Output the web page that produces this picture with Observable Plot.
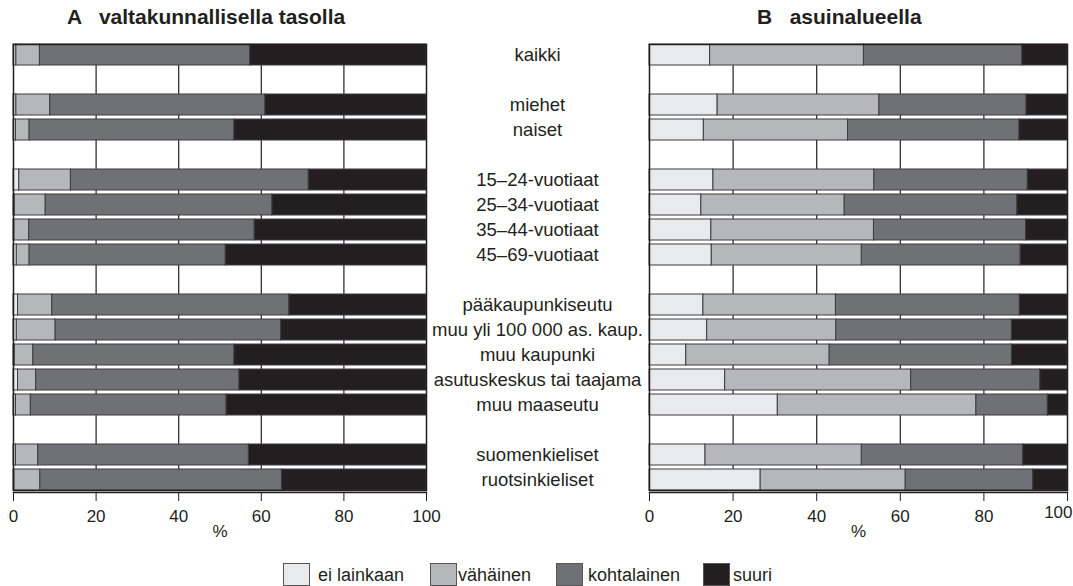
<!DOCTYPE html>
<html>
<head>
<meta charset="utf-8">
<script src="https://cdn.jsdelivr.net/npm/d3@7"></script>
<script src="https://cdn.jsdelivr.net/npm/@observablehq/plot@0.6"></script>
<style>
  html, body { margin: 0; padding: 0; background: #fff; }
  #root { position: relative; width: 1073px; height: 586px; overflow: hidden; font-family: "Liberation Sans", Arial, sans-serif; color: #231f20; }
  .abs { position: absolute; }
  .title { font-weight: bold; font-size: 21px; white-space: pre; top: 5px; }
  .sw { position: absolute; width: 27px; height: 23px; border: 1px solid #555; box-sizing: border-box; top: 563px; }
  .lt { position: absolute; font-size: 18px; top: 564px; line-height: 22px; white-space: nowrap; }
</style>
</head>
<body>
<div id="root"></div>
<script>
// ---- data ----
const categories = [
  "kaikki", null, "miehet", "naiset", null,
  "15–24-vuotiaat", "25–34-vuotiaat", "35–44-vuotiaat", "45–69-vuotiaat", null,
  "pääkaupunkiseutu", "muu yli 100 000 as. kaup.", "muu kaupunki", "asutuskeskus tai taajama", "muu maaseutu", null,
  "suomenkieliset", "ruotsinkieliset"
];
const seriesNames = ["ei lainkaan", "vähäinen", "kohtalainen", "suuri"];
const seriesColors = ["#e9eaeb", "#b6b7ba", "#707174", "#231f20"];
const xTicks = [0, 20, 40, 60, 80, 100];
const gridTicks = [20, 40, 60, 80];

const titleA = "A   valtakunnallisella tasolla";
const titleB = "B   asuinalueella";

// Panel A (valtakunnallisella tasolla), % per row (non-blank rows in order)
const A_eiLainkaan = [0.7, 0.7, 0.6, 1.4, 0.3, 0.2, 0.8, 1.1, 0.8, 0.3, 1.1, 0.6, 0.6, 0.2];
const A_vahainen   = [5.7, 8.2, 3.3, 12.5, 7.5, 3.6, 3.1, 8.3, 9.4, 4.5, 4.4, 3.6, 5.4, 6.3];
const A_kohtalainen= [50.9, 52.1, 49.6, 57.6, 54.9, 54.6, 47.5, 57.4, 54.6, 48.7, 49.2, 47.4, 51.0, 58.5];
const A_suuri      = [42.7, 39.0, 46.5, 28.5, 37.3, 41.6, 48.6, 33.2, 35.2, 46.5, 45.3, 48.4, 43.0, 35.0];

// Panel B (asuinalueella)
const B_eiLainkaan = [14.5, 16.3, 13.0, 15.3, 12.4, 14.8, 14.9, 12.9, 13.8, 8.8, 18.1, 30.7, 13.4, 26.6];
const B_vahainen   = [36.8, 38.7, 34.5, 38.5, 34.3, 38.9, 35.9, 31.7, 30.9, 34.3, 44.5, 47.5, 37.4, 34.7];
const B_kohtalainen= [37.9, 35.2, 41.0, 36.7, 41.3, 36.4, 38.0, 44.0, 42.0, 43.6, 30.9, 17.1, 38.6, 30.5];
const B_suuri      = [10.8, 9.8, 11.5, 9.5, 12.0, 9.9, 11.2, 11.4, 13.3, 13.3, 6.5, 4.7, 10.6, 8.2];

// ---- build ----
const labels = categories.filter(c => c !== null);
const rowKeys = categories.map((c, i) => c !== null ? c : "väli" + i);

function table(series) {
  const out = [];
  labels.forEach((lab, i) => {
    series.forEach((arr, s) => out.push({row: lab, series: seriesNames[s], value: arr[i]}));
  });
  return out;
}
const dataA = table([A_eiLainkaan, A_vahainen, A_kohtalainen, A_suuri]);
const dataB = table([B_eiLainkaan, B_vahainen, B_kohtalainen, B_suuri]);

const H = 530, MT = 14, MB = 70;
const ink = "#231f20";
const font = "'Liberation Sans', Arial, sans-serif";

function yScale() {
  return {domain: rowKeys, type: "band", paddingInner: 0.16, paddingOuter: 0, axis: null};
}

function panel(data, width, ml, mr, lastEnd) {
  const last = xTicks[xTicks.length - 1];
  const marks = [
    Plot.gridX(gridTicks, {stroke: ink, strokeOpacity: 1, strokeWidth: 1.2}),
    Plot.barX(data, Plot.stackX({x: "value", y: "row", fill: "series", stroke: "#3d3d40", strokeWidth: 1})),
    Plot.frame({stroke: ink, strokeWidth: 1.5}),
    Plot.frame({anchor: "bottom", stroke: ink, strokeWidth: 1.5, dy: 2}),
    Plot.axisX(xTicks, {tickSize: 9, tickPadding: 8, dy: 2, fontSize: 17,
      tickFormat: d => (lastEnd && d === last) ? "" : String(d),
      label: "%", labelAnchor: "center", labelOffset: 46, labelArrow: "none", stroke: ink})
  ];
  if (lastEnd) {
    marks.push(Plot.text([last], {x: d => d, text: d => String(d), frameAnchor: "bottom",
      textAnchor: "end", dx: 5, dy: 27, fontSize: 17, fill: ink}));
  }
  return Plot.plot({
    width, height: H, marginTop: MT, marginBottom: MB, marginLeft: ml, marginRight: mr,
    x: {domain: [0, 100]},
    y: yScale(),
    color: {domain: seriesNames, range: seriesColors},
    style: {fontFamily: font, fontSize: "17px", color: ink, background: "transparent", overflow: "visible"},
    marks
  });
}

const root = document.getElementById("root");

function place(el, left, top) {
  el.style.position = "absolute";
  el.style.left = left + "px";
  el.style.top = top + "px";
  root.appendChild(el);
}

place(panel(dataA, 440, 13, 14, false), 0, 30);
place(panel(dataB, 437, 13, 6, true), 636, 30);

const mid = Plot.plot({
  width: 200, height: H, marginTop: MT, marginBottom: MB, marginLeft: 0, marginRight: 0,
  y: yScale(),
  style: {fontFamily: font, fontSize: "18.5px", color: ink, background: "transparent", overflow: "visible"},
  marks: [
    Plot.text(labels, {y: d => d, text: d => d, frameAnchor: "middle", fontSize: 18.5, fill: ink})
  ]
});
place(mid, 437, 30);

// titles
const tA = document.createElement("div");
tA.className = "abs title"; tA.textContent = titleA; tA.style.left = "67px";
root.appendChild(tA);
const tB = document.createElement("div");
tB.className = "abs title"; tB.textContent = titleB; tB.style.left = "757px";
root.appendChild(tB);

// legend
const swLeft = [283, 430, 556, 703];
const txtLeft = [318, 458, 588, 733];
seriesNames.forEach((name, i) => {
  const sw = document.createElement("div");
  sw.className = "sw"; sw.style.left = swLeft[i] + "px"; sw.style.background = seriesColors[i];
  root.appendChild(sw);
  const t = document.createElement("div");
  t.className = "lt"; t.style.left = txtLeft[i] + "px"; t.textContent = name;
  root.appendChild(t);
});
</script>
</body>
</html>
